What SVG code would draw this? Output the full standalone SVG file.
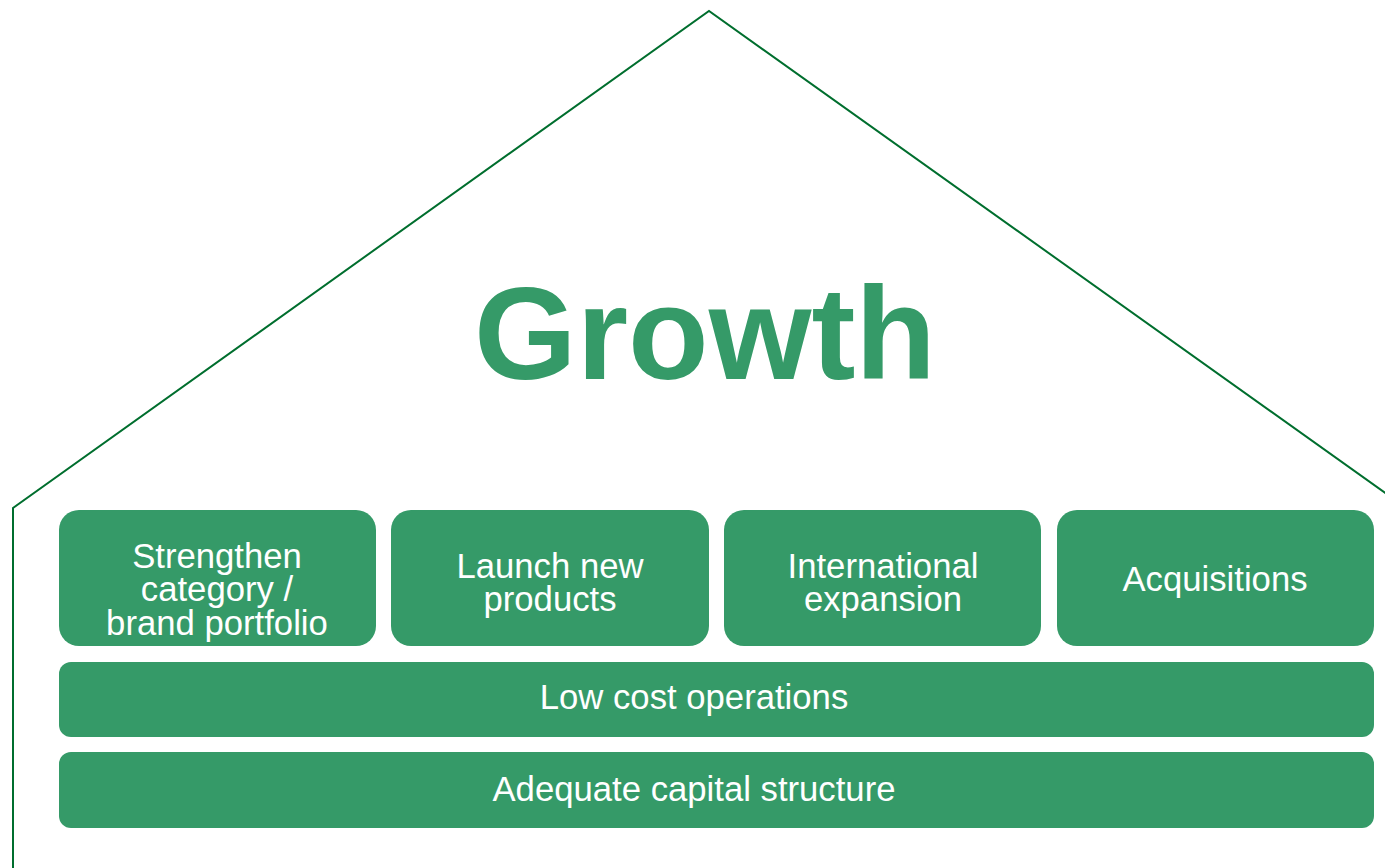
<svg xmlns="http://www.w3.org/2000/svg" width="1385" height="868" viewBox="0 0 1385 868">
  <style>
    .outline { fill: none; stroke: #006e2e; stroke-width: 2; }
    .box { fill: #359a68; }
    .label { fill: #ffffff; font-family: "Liberation Sans", Arial, sans-serif; font-size: 34.7px; text-anchor: middle; }
    .title { fill: #359a68; font-family: "Liberation Sans", Arial, sans-serif; font-weight: bold; font-size: 132px; text-anchor: middle; }
  </style>
  <rect width="1385" height="868" fill="#ffffff"/>
  <!-- house outline -->
  <g id="house">
    <polyline class="outline" points="13,868 13,508 709,11 1405,507"/>
  </g>
  <g id="title">
    <text class="title" x="705" y="379">Growth</text>
  </g>
  <g id="pillar-brand">
    <rect class="box" x="59" y="510" width="317" height="136" rx="20"/>
    <text class="label" x="217" y="568">Strengthen</text>
    <text class="label" x="217" y="601">category /</text>
    <text class="label" x="217" y="635">brand portfolio</text>
  </g>
  <g id="pillar-products">
    <rect class="box" x="391" y="510" width="318" height="136" rx="20"/>
    <text class="label" x="550" y="578">Launch new</text>
    <text class="label" x="550" y="611">products</text>
  </g>
  <g id="pillar-international">
    <rect class="box" x="724" y="510" width="317" height="136" rx="20"/>
    <text class="label" x="883" y="578">International</text>
    <text class="label" x="883" y="611">expansion</text>
  </g>
  <g id="pillar-acquisitions">
    <rect class="box" x="1057" y="510" width="317" height="136" rx="20"/>
    <text class="label" x="1215" y="591">Acquisitions</text>
  </g>
  <g id="base-operations">
    <rect class="box" x="59" y="662" width="1315" height="75" rx="12"/>
    <text class="label" x="694" y="709">Low cost operations</text>
  </g>
  <g id="base-capital">
    <rect class="box" x="59" y="752" width="1315" height="76" rx="12"/>
    <text class="label" x="694" y="801">Adequate capital structure</text>
  </g>
  <g id="connectors"></g>
</svg>
